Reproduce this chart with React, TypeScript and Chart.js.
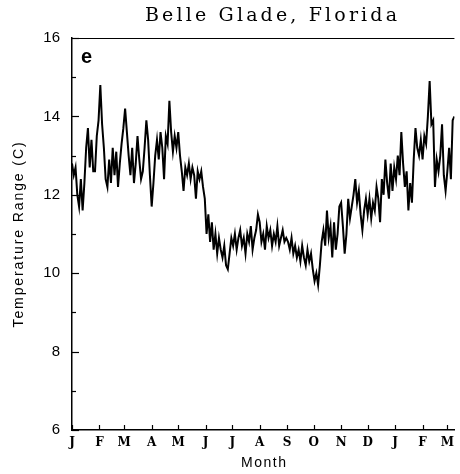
import React, { useEffect, useRef } from "react";
import { Chart, registerables } from "chart.js";

Chart.register(...registerables);

// Chart text
const TITLE = "Belle Glade, Florida";
const PANEL_LABEL = "e";
const Y_TITLE = "Temperature Range (C)";
const X_TITLE = "Month";

// Month axis (day-of-record where each month starts) and tick labels
const MONTH_STARTS = [0, 31, 59, 90, 120, 151, 181, 212, 243, 273, 304, 334, 365, 396, 424];
const MONTH_LABELS = ["J", "F", "M", "A", "M", "J", "J", "A", "S", "O", "N", "D", "J", "F", "M"];
const X_MAX_DAY = 432;
const SAMPLE_STEP_DAYS = 2;

// Y axis
const Y_MIN = 6;
const Y_MAX = 16;
const Y_MAJOR_STEP = 2;
const Y_MINOR_TICKS = [7, 9, 11, 13, 15];

// Daily temperature range (C), sampled every 2 days, grouped by month
const JAN1 = [12.8, 12.5, 12.7, 12.0, 11.7, 12.4, 11.6, 12.3, 13.2, 13.7, 12.7, 13.4, 12.6, 12.6, 13.5, 13.9];
const FEB1 = [14.8, 13.8, 13.2, 12.4, 12.2, 12.9, 12.3, 13.2, 12.5, 13.1, 12.2, 12.8, 13.3, 13.7];
const MAR1 = [14.2, 13.6, 13.0, 12.5, 13.2, 12.3, 12.8, 13.5, 12.9, 12.4, 12.6, 13.2, 13.9, 13.4, 12.5];
const APR1 = [11.7, 12.3, 13.0, 13.4, 12.9, 13.6, 13.2, 12.4, 13.5, 13.3, 14.4, 13.6, 13.1, 13.5, 13.2];
const MAY1 = [13.6, 13.0, 12.6, 12.1, 12.7, 12.5, 12.8, 12.4, 12.7, 12.5, 11.9, 12.6, 12.4, 12.6, 12.2, 11.9];
const JUN1 = [11.0, 11.5, 10.8, 11.3, 10.6, 11.0, 10.5, 10.9, 10.6, 10.4, 10.7, 10.2, 10.1, 10.5, 10.9];
const JUL1 = [10.7, 11.0, 10.6, 10.9, 11.1, 10.7, 10.9, 10.5, 11.0, 10.8, 11.2, 10.6, 10.9, 11.1, 11.5];
const AUG1 = [11.3, 10.8, 11.0, 10.6, 11.2, 10.9, 11.1, 10.7, 11.0, 10.8, 11.2, 10.7, 10.9, 11.1, 10.8, 10.9];
const SEP1 = [10.8, 10.6, 10.9, 10.5, 10.7, 10.4, 10.6, 10.3, 10.7, 10.4, 10.2, 10.6, 10.3, 10.5, 10.1];
const OCT1 = [9.8, 10.0, 9.7, 10.2, 10.8, 11.1, 10.7, 11.6, 10.9, 11.2, 10.4, 11.3, 10.6, 11.0, 11.7];
const NOV1 = [11.8, 11.2, 10.5, 11.0, 11.9, 11.4, 11.7, 12.0, 12.4, 11.8, 12.1, 11.5, 11.1, 11.6, 11.9];
const DEC1 = [11.5, 11.9, 11.4, 11.8, 11.6, 12.2, 11.9, 11.3, 12.4, 12.0, 12.9, 12.3, 11.9, 12.8, 12.1, 12.7];
const JAN2 = [12.4, 13.0, 12.5, 13.6, 12.8, 12.2, 12.6, 11.6, 12.3, 11.8, 12.9, 13.7, 13.2, 13.0, 13.4];
const FEB2 = [12.9, 13.5, 13.3, 14.0, 14.9, 13.8, 13.9, 12.2, 12.9, 12.6, 13.0, 13.8, 12.5, 12.1];
const MAR2 = [12.6, 13.2, 12.4, 13.9, 14.0];

const SERIES = [
  ...JAN1, ...FEB1, ...MAR1, ...APR1, ...MAY1, ...JUN1, ...JUL1, ...AUG1,
  ...SEP1, ...OCT1, ...NOV1, ...DEC1, ...JAN2, ...FEB2, ...MAR2,
];

const W = 460;
const H = 474;
const SANS = "'Liberation Sans', Arial, sans-serif";
const SERIF = "'DejaVu Serif', serif";

const decorPlugin = {
  id: "decor",
  afterDraw(chart: any) {
    const { ctx, chartArea } = chart;
    const xs = chart.scales.x;
    const ys = chart.scales.y;
    ctx.save();
    ctx.strokeStyle = "#000";
    ctx.fillStyle = "#000";

    // top frame line
    ctx.lineWidth = 1.2;
    ctx.beginPath();
    ctx.moveTo(chartArea.left, chartArea.top + 0.5);
    ctx.lineTo(chartArea.right, chartArea.top + 0.5);
    ctx.stroke();

    // inward y ticks
    for (let v = Y_MIN; v <= Y_MAX; v += Y_MAJOR_STEP) {
      const y = Math.round(ys.getPixelForValue(v)) + 0.5;
      ctx.beginPath();
      ctx.moveTo(chartArea.left, y);
      ctx.lineTo(chartArea.left + 7, y);
      ctx.stroke();
    }
    for (const v of Y_MINOR_TICKS) {
      const y = Math.round(ys.getPixelForValue(v)) + 0.5;
      ctx.beginPath();
      ctx.moveTo(chartArea.left, y);
      ctx.lineTo(chartArea.left + 4, y);
      ctx.stroke();
    }
    // inward x ticks
    for (const d of MONTH_STARTS) {
      const x = Math.round(xs.getPixelForValue(d)) + 0.5;
      ctx.beginPath();
      ctx.moveTo(x, chartArea.bottom);
      ctx.lineTo(x, chartArea.bottom - 5);
      ctx.stroke();
    }

    // title
    ctx.font = `19px ${SERIF}`;
    (ctx as any).letterSpacing = "0px";
    const tw = ctx.measureText(TITLE).width;
    const ls = Math.max(0, (252 - tw) / (TITLE.length - 1));
    (ctx as any).letterSpacing = `${ls}px`;
    ctx.textAlign = "left";
    ctx.textBaseline = "alphabetic";
    ctx.fillText(TITLE, 145, 21);

    // panel label
    (ctx as any).letterSpacing = "0px";
    ctx.font = `bold 20px ${SANS}`;
    ctx.fillText(PANEL_LABEL, chartArea.left + 9, chartArea.top + 25);

    // x axis title
    ctx.font = `14px ${SANS}`;
    (ctx as any).letterSpacing = "1.5px";
    ctx.textAlign = "center";
    ctx.fillText(X_TITLE, (chartArea.left + chartArea.right) / 2 + 1, 467);

    // y axis title
    ctx.save();
    ctx.translate(23, (chartArea.top + chartArea.bottom) / 2);
    ctx.rotate(-Math.PI / 2);
    ctx.font = `14px ${SANS}`;
    (ctx as any).letterSpacing = "1.9px";
    ctx.textAlign = "center";
    ctx.fillText(Y_TITLE, 0, 0);
    ctx.restore();

    ctx.restore();
  },
};

export default function App() {
  const ref = useRef<HTMLCanvasElement>(null);

  useEffect(() => {
    document.body.style.margin = "0";
    const canvas = ref.current!;
    const points = SERIES.map((v, i) => ({ x: i * SAMPLE_STEP_DAYS, y: v }));
    const chart = new Chart(canvas, {
      type: "line",
      data: {
        datasets: [
          {
            data: points,
            borderColor: "#000",
            borderWidth: 2,
            pointRadius: 0,
            tension: 0,
            fill: false,
          },
        ],
      },
      options: {
        responsive: false,
        animation: false,
        devicePixelRatio: 1,
        layout: { padding: { top: 38, left: 0, right: 0, bottom: 0 } },
        plugins: {
          legend: { display: false },
          tooltip: { enabled: false },
          title: { display: false },
        },
        scales: {
          x: {
            type: "linear",
            min: 0,
            max: X_MAX_DAY,
            afterBuildTicks: (s: any) => {
              s.ticks = MONTH_STARTS.map((v) => ({ value: v }));
            },
            afterFit: (s: any) => {
              s.height = 44;
            },
            ticks: {
              autoSkip: false,
              maxRotation: 0,
              padding: 6,
              color: "#000",
              font: { family: SERIF, size: 12, weight: "bold" },
              callback: (_v: any, i: number) => MONTH_LABELS[i],
            },
            grid: { display: false, drawTicks: false },
            border: { display: true, color: "#000", width: 1.5 },
          },
          y: {
            type: "linear",
            min: Y_MIN,
            max: Y_MAX,
            afterFit: (s: any) => {
              s.width = 72;
            },
            ticks: {
              stepSize: Y_MAJOR_STEP,
              padding: 12,
              color: "#000",
              font: { family: SANS, size: 15 },
            },
            grid: { display: false, drawTicks: false },
            border: { display: true, color: "#000", width: 1.5 },
          },
        },
      },
      plugins: [decorPlugin],
    });
    return () => chart.destroy();
  }, []);

  return (
    <canvas
      ref={ref}
      width={W}
      height={H}
      style={{ display: "block", width: W, height: H, background: "#fff" }}
    />
  );
}
